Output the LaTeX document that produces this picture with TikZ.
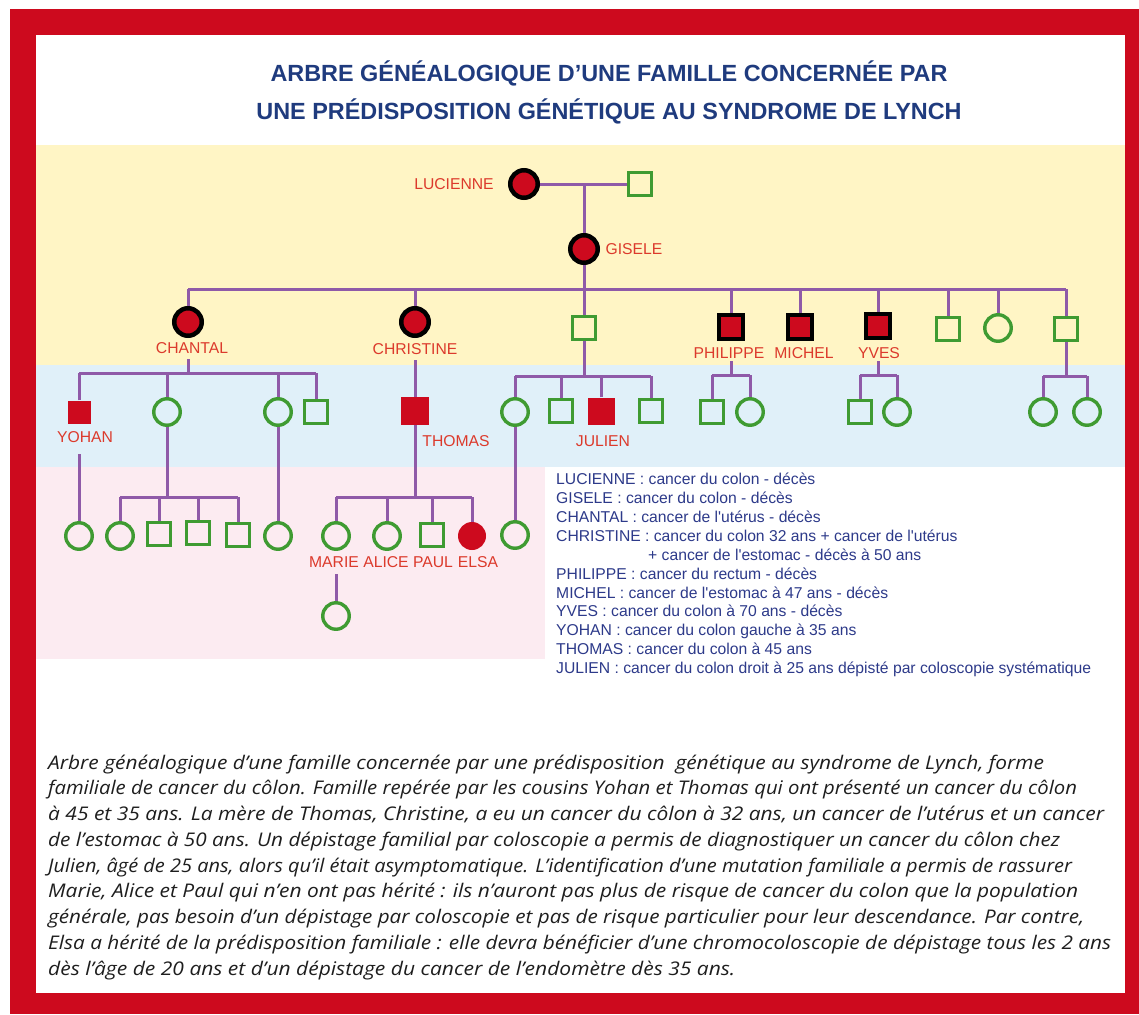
\documentclass[tikz,border=0pt]{standalone}
\usepackage{graphicx}
\usepackage{fontspec}
\setmainfont{Liberation Sans}
\newfontfamily\capfont{Open Sans}
\newcommand{\fitw}[2]{\resizebox{#1pt}{\height}{#2}}
\definecolor{lred}{HTML}{CD0A1E}
\definecolor{lyellow}{HTML}{FFF5C5}
\definecolor{lblue}{HTML}{E0F0F9}
\definecolor{lpink}{HTML}{FCEBF1}
\definecolor{lgreen}{HTML}{3F9B32}
\definecolor{lpurple}{HTML}{8F5AA8}
\definecolor{lname}{HTML}{DC3A2C}
\definecolor{legblue}{HTML}{2D3A8A}
\definecolor{titleblue}{HTML}{1F3B7E}
\definecolor{captext}{HTML}{1E1E1E}
\begin{document}
\begin{tikzpicture}[x=1pt,y=-1pt,
  link/.style={draw=lpurple, line width=3pt},
  fem/.style={circle, draw=lgreen, line width=3.4pt, minimum size=26.5pt, inner sep=0pt},
  mal/.style={rectangle, draw=lgreen, line width=3.4pt, minimum size=23.5pt, inner sep=0pt},
  afff/.style={circle, fill=lred, draw=black, line width=4.5pt, minimum size=27.5pt, inner sep=0pt},
  affm/.style={rectangle, fill=lred, draw=black, line width=4pt, minimum size=24.5pt, inner sep=0pt},
  redsq/.style={rectangle, fill=lred, minimum size=#1, inner sep=0pt},
  redci/.style={circle, fill=lred, minimum size=28pt, inner sep=0pt},
  pname/.style={text=lname, font=\fontsize{15.7}{18}\selectfont, inner sep=0pt},
  ttl/.style={text=titleblue, font=\fontsize{23.4}{28}\selectfont\bfseries, inner sep=0pt, anchor=base},
  leg/.style={text=legblue, font=\fontsize{15.7}{19}\selectfont, inner sep=0pt, anchor=base west},
  captxt/.style={text=captext, font=\capfont\itshape\fontsize{18.8}{25}\selectfont, inner sep=0pt, anchor=base west},
]
\useasboundingbox (0,0) rectangle (1139,1014);
% frame and bands
\fill[white] (0,0) rectangle (1139,1014);
\fill[lred] (10,9) rectangle (1139,1014);
\fill[white] (36,35) rectangle (1125,993);
\fill[lyellow] (36,145) rectangle (1125,365);
\fill[lblue] (36,365) rectangle (1125,467);
\fill[lpink] (36,467) rectangle (545,659);

% title
\node[ttl] (t1) at (609,82) {ARBRE GÉNÉALOGIQUE D’UNE FAMILLE CONCERNÉE PAR};
\node[ttl] (t2) at (609,119) {UNE PRÉDISPOSITION GÉNÉTIQUE AU SYNDROME DE LYNCH};

% generation I
\node[afff] (lucienne) at (524,184) {};
\node[mal] (grandpa) at (640,184) {};
\node[pname] (lLucienne) at (454,184) {LUCIENNE};
\coordinate (m1) at (584,184);
% generation II
\node[afff] (gisele) at (584,249) {};
\node[pname] (lGisele) at (634,249) {GISELE};
% generation III
\node[afff] (chantal) at (188,322) {};
\node[afff] (christine) at (415,322) {};
\node[mal] (son1) at (584,328) {};
\node[affm] (philippe) at (731,327) {};
\node[affm] (michel) at (800,327) {};
\node[affm] (yves) at (878,326) {};
\node[mal] (sq3a) at (948,329) {};
\node[fem] (ci3b) at (998,328) {};
\node[mal] (sq3c) at (1066,329) {};
\node[pname] (lChantal) at (192,348) {CHANTAL};
\node[pname] (lChristine) at (415,349) {CHRISTINE};
\node[pname] (lPhilippe) at (729,353) {PHILIPPE};
\node[pname] (lMichel) at (804,353) {MICHEL};
\node[pname] (lYves) at (879,353) {YVES};
% generation IV
\node[redsq=23pt] (yohan) at (79,412) {};
\node[fem] (ci4b) at (167,412) {};
\node[fem] (ci4c) at (278,412) {};
\node[mal] (sq4d) at (316,412) {};
\node[redsq=28pt] (thomas) at (415,411) {};
\node[fem] (ci4e) at (515,412) {};
\node[mal] (sq4f) at (561,411) {};
\node[redsq=27pt] (julien) at (601,411) {};
\node[mal] (sq4h) at (651,411) {};
\node[mal] (sq4i) at (712,412) {};
\node[fem] (ci4j) at (750,412) {};
\node[mal] (sq4k) at (860,412) {};
\node[fem] (ci4l) at (897,412) {};
\node[fem] (ci4m) at (1043,412) {};
\node[fem] (ci4n) at (1087,412) {};
\node[pname] (lYohan) at (85,437) {YOHAN};
\node[pname] (lThomas) at (456,441) {THOMAS};
\node[pname] (lJulien) at (603,441) {JULIEN};
% generation V
\node[fem] (ci5a) at (79,536) {};
\node[fem] (ci5b) at (120,536) {};
\node[mal] (sq5c) at (159,534) {};
\node[mal] (sq5d) at (198,533) {};
\node[mal] (sq5e) at (238,535) {};
\node[fem] (ci5f) at (278,536) {};
\node[fem] (marie) at (336,536) {};
\node[fem] (alice) at (387,536) {};
\node[mal] (paul) at (432,535) {};
\node[redci] (elsa) at (472,536) {};
\node[fem] (ci5k) at (515,535) {};
\node[pname] (lMarie) at (334,562) {MARIE};
\node[pname] (lAlice) at (386,562) {ALICE};
\node[pname] (lPaul) at (433,562) {PAUL};
\node[pname] (lElsa) at (478,562) {ELSA};
% generation VI
\node[fem] (ci6) at (336,616) {};

% bar coordinates
\coordinate (b3) at (584,289);
\coordinate (b4a) at (188,373);
\coordinate (b4c) at (584,376);
\coordinate (b4p) at (731,375);
\coordinate (b4y) at (878,375);
\coordinate (b4z) at (1066,376);
\coordinate (b5a) at (167,497);
\coordinate (b5t) at (415,497);
\coordinate (s4a) at (188,359);
\coordinate (s4b) at (415,360);
\coordinate (s4p) at (731,361);
\coordinate (s4y) at (878,361);
\coordinate (s5a) at (79,454);
\coordinate (s6) at (336,574);

% connectors
\draw[link] (lucienne) -- (grandpa);
\draw[link] (m1) -- (gisele);
\draw[link] (gisele) -- (son1);
\draw[link] (chantal |- b3) -- (sq3c |- b3);
\foreach \n in {chantal,christine,philippe,michel,yves,sq3a,ci3b,sq3c}
  \draw[link] (\n) -- (\n |- b3);
% Chantal's children
\draw[link] (s4a) -- (b4a);
\draw[link] (yohan |- b4a) -- (sq4d |- b4a);
\foreach \n in {yohan,ci4b,ci4c,sq4d}
  \draw[link] (\n) -- (\n |- b4a);
% Christine's child
\draw[link] (s4b) -- (thomas);
% son1's children
\draw[link] (son1) -- (b4c);
\draw[link] (ci4e |- b4c) -- (sq4h |- b4c);
\foreach \n in {ci4e,sq4f,julien,sq4h}
  \draw[link] (\n) -- (\n |- b4c);
% Philippe's children
\draw[link] (s4p) -- (b4p);
\draw[link] (sq4i |- b4p) -- (ci4j |- b4p);
\foreach \n in {sq4i,ci4j}
  \draw[link] (\n) -- (\n |- b4p);
% Yves' children
\draw[link] (s4y) -- (b4y);
\draw[link] (sq4k |- b4y) -- (ci4l |- b4y);
\foreach \n in {sq4k,ci4l}
  \draw[link] (\n) -- (\n |- b4y);
% last brother's children
\draw[link] (sq3c) -- (b4z);
\draw[link] (ci4m |- b4z) -- (ci4n |- b4z);
\foreach \n in {ci4m,ci4n}
  \draw[link] (\n) -- (\n |- b4z);
% generation V links
\draw[link] (s5a) -- (ci5a);
\draw[link] (ci4b) -- (b5a);
\draw[link] (ci5b |- b5a) -- (sq5e |- b5a);
\foreach \n in {ci5b,sq5c,sq5d,sq5e}
  \draw[link] (\n) -- (\n |- b5a);
\draw[link] (ci4c) -- (ci5f);
\draw[link] (thomas) -- (b5t);
\draw[link] (marie |- b5t) -- (elsa |- b5t);
\foreach \n in {marie,alice,paul,elsa}
  \draw[link] (\n) -- (\n |- b5t);
\draw[link] (ci4e) -- (ci5k);
\draw[link] (s6) -- (ci6);

% legend
\node[leg] (g1) at (556,484.6) {LUCIENNE : cancer du colon - décès};
\node[leg] (g2) at (556,503.5) {GISELE : cancer du colon - décès};
\node[leg] (g3) at (556,522.4) {CHANTAL : cancer de l\textquotesingle utérus - décès};
\node[leg] (g4) at (556,541.3) {CHRISTINE : cancer du colon 32 ans + cancer de l\textquotesingle utérus};
\node[leg] (g5) at (648,560.2) {+ cancer de l\textquotesingle estomac - décès à 50 ans};
\node[leg] (g6) at (556,579.1) {PHILIPPE : cancer du rectum - décès};
\node[leg] (g7) at (556,598.0) {MICHEL : cancer de l\textquotesingle estomac à 47 ans - décès};
\node[leg] (g8) at (556,616.9) {YVES : cancer du colon à 70 ans - décès};
\node[leg] (g9) at (556,635.8) {YOHAN : cancer du colon gauche à 35 ans};
\node[leg] (g10) at (556,654.7) {THOMAS : cancer du colon à 45 ans};
\node[leg] (g11) at (556,673.6) {JULIEN : cancer du colon droit à 25 ans dépisté par coloscopie systématique};

% caption
\node[captxt] (c1) at (48,769) {\fitw{996}{Arbre généalogique d’une famille concernée par une prédisposition\ \ génétique au syndrome de Lynch, forme}};
\node[captxt] (c2) at (48,794.75) {\fitw{1029}{familiale de cancer du côlon. Famille repérée par les cousins Yohan et Thomas qui ont présenté un cancer du côlon}};
\node[captxt] (c3) at (48,820.5) {\fitw{1056}{à 45 et 35 ans. La mère de Thomas, Christine, a eu un cancer du côlon à 32 ans, un cancer de l’utérus et un cancer}};
\node[captxt] (c4) at (48,846.25) {\fitw{1012}{de l’estomac à 50 ans. Un dépistage familial par coloscopie a permis de diagnostiquer un cancer du côlon chez}};
\node[captxt] (c5) at (48,872) {\fitw{1024}{Julien, âgé de 25 ans, alors qu’il était asymptomatique. L’identification d’une mutation familiale a permis de rassurer}};
\node[captxt] (c6) at (48,897.75) {\fitw{1030}{Marie, Alice et Paul qui n’en ont pas hérité : ils n’auront pas plus de risque de cancer du colon que la population}};
\node[captxt] (c7) at (48,923.5) {\fitw{1036}{générale, pas besoin d’un dépistage par coloscopie et pas de risque particulier pour leur descendance. Par contre,}};
\node[captxt] (c8) at (48,949.25) {\fitw{1063}{Elsa a hérité de la prédisposition familiale : elle devra bénéficier d’une chromocoloscopie de dépistage tous les 2 ans}};
\node[captxt] (c9) at (48,975) {\fitw{687}{dès l’âge de 20 ans et d’un dépistage du cancer de l’endomètre dès 35 ans.}};
\end{tikzpicture}
\end{document}
